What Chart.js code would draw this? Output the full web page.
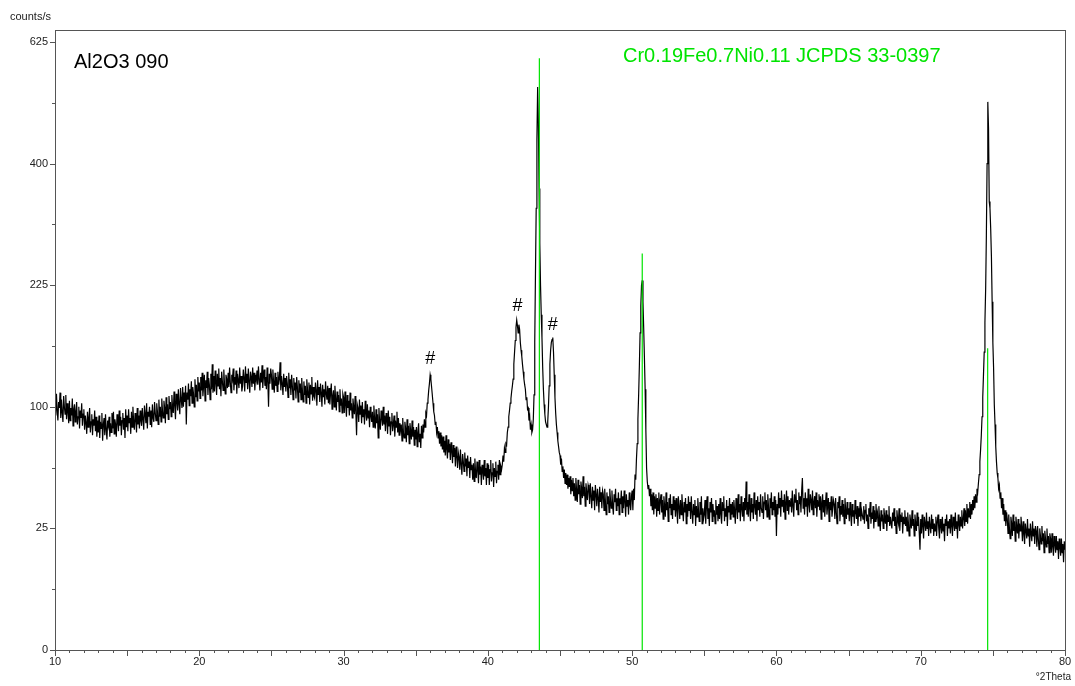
<!DOCTYPE html>
<html>
<head>
<meta charset="utf-8">
<script src="https://cdn.jsdelivr.net/npm/chart.js@4/dist/chart.umd.min.js"></script>
<style>
  html, body { margin: 0; padding: 0; background: #fff; }
  #wrap { width: 1075px; height: 686px; position: relative; }
</style>
</head>
<body>
<div id="wrap"><canvas id="xrd"></canvas></div>
<script>
// Scan: 10..80 deg 2Theta, one reading every 0.05 deg
const thetaStart = 10;
const thetaStep = 0.05;

// Intensity (counts/s), one row per degree (x.00 .. x.95)
const countRows = [
  [108, 93, 111, 97, 89, 104, 99, 112, 91, 106, 95, 88, 109, 100, 94, 110, 90, 103, 96, 87],        // 10
  [105, 89, 99, 93, 107, 85, 98, 102, 88, 96, 104, 86, 92, 100, 83, 97, 91, 103, 85, 94],           // 11
  [98, 82, 93, 87, 79, 96, 84, 91, 99, 80, 88, 94, 78, 90, 85, 97, 81, 92, 77, 89],                 // 12
  [80, 93, 76, 88, 83, 95, 74, 86, 91, 78, 94, 82, 75, 89, 85, 92, 77, 87, 80, 95],                 // 13
  [83, 96, 79, 90, 86, 77, 94, 88, 81, 97, 85, 92, 78, 89, 95, 82, 91, 76, 98, 84],                 // 14
  [93, 81, 98, 87, 91, 79, 96, 84, 100, 88, 82, 95, 90, 80, 99, 86, 93, 83, 97, 89],                // 15
  [85, 99, 90, 82, 101, 94, 87, 103, 83, 96, 92, 100, 86, 97, 84, 102, 91, 88, 104, 95],            // 16
  [89, 103, 96, 86, 106, 92, 100, 88, 107, 97, 91, 105, 99, 87, 108, 94, 102, 90, 109, 98],         // 17
  [104, 92, 110, 99, 95, 113, 101, 90, 111, 105, 97, 115, 102, 94, 116, 106, 99, 117, 100, 112],    // 18
  [104, 118, 86, 112, 106, 120, 101, 115, 109, 122, 103, 117, 111, 100, 124, 108, 119, 105, 126, 113], // 19
  [121, 107, 126, 114, 130, 109, 118, 128, 105, 123, 116, 131, 110, 125, 119, 106, 129, 115, 138, 112], // 20
  [127, 113, 132, 120, 110, 129, 118, 134, 115, 125, 109, 131, 122, 114, 133, 119, 111, 128, 124, 116], // 21
  [130, 117, 135, 121, 112, 128, 124, 134, 114, 126, 119, 132, 111, 129, 123, 116, 135, 120, 127, 113], // 22
  [118, 133, 125, 113, 136, 121, 129, 115, 134, 122, 112, 131, 126, 117, 135, 120, 130, 114, 128, 123], // 23
  [132, 119, 136, 124, 114, 130, 121, 137, 116, 127, 133, 118, 126, 115, 135, 122, 100, 129, 120, 134], // 24
  [128, 115, 133, 121, 112, 130, 118, 126, 113, 131, 119, 124, 140, 114, 127, 120, 110, 129, 117, 125], // 25
  [113, 127, 120, 108, 130, 116, 124, 110, 128, 118, 106, 125, 114, 121, 107, 126, 117, 104, 123, 112], // 26
  [120, 106, 125, 113, 104, 122, 110, 118, 103, 124, 115, 108, 121, 102, 119, 111, 126, 105, 117, 109], // 27
  [107, 121, 114, 101, 123, 110, 117, 104, 120, 112, 100, 119, 108, 115, 102, 122, 111, 106, 118, 103], // 28
  [116, 102, 112, 120, 98, 109, 114, 100, 118, 106, 97, 113, 104, 110, 96, 115, 101, 107, 95, 111],  // 29
  [108, 95, 113, 101, 92, 110, 99, 105, 93, 112, 97, 103, 91, 107, 100, 94, 109, 96, 78, 102],       // 30
  [99, 88, 106, 94, 101, 87, 104, 92, 98, 86, 105, 95, 89, 102, 91, 97, 84, 100, 93, 88],            // 31
  [96, 84, 101, 90, 83, 98, 87, 94, 76, 99, 88, 82, 97, 91, 85, 100, 86, 93, 81, 95],                // 32
  [90, 79, 97, 85, 92, 78, 88, 95, 81, 86, 93, 77, 89, 84, 96, 80, 91, 78, 87, 82],                  // 33
  [86, 74, 91, 80, 76, 88, 83, 73, 90, 78, 85, 72, 87, 81, 75, 89, 77, 84, 71, 82],                  // 34
  [75, 84, 70, 80, 87, 73, 79, 69, 85, 76, 86, 80, 90, 84, 95, 93, 103, 106, 114, 120],              // 35
  [128, 124, 117, 110, 103, 96, 93, 86, 88, 80, 84, 76, 81, 72, 80, 70, 78, 68, 77, 66],             // 36
  [74, 64, 78, 68, 62, 75, 66, 72, 61, 73, 67, 59, 71, 63, 69, 57, 70, 64, 56, 66],                  // 37
  [63, 55, 68, 58, 52, 65, 60, 54, 66, 57, 62, 51, 64, 56, 60, 50, 63, 55, 58, 49],                  // 38
  [59, 48, 62, 53, 50, 60, 55, 47, 61, 52, 57, 46, 58, 54, 49, 61, 51, 56, 46, 59],                  // 39
  [50, 58, 46, 55, 61, 48, 53, 59, 45, 56, 51, 60, 47, 54, 58, 49, 61, 52, 57, 55],                  // 40
  [58, 64, 60, 69, 66, 72, 71, 80, 84, 92, 97, 103, 107, 113, 118, 124, 138, 150, 162, 176],         // 41
  [184, 178, 170, 179, 174, 160, 152, 146, 138, 131, 124, 119, 115, 106, 108, 98, 99, 89, 92, 82],   // 42
  [86, 80, 82, 90, 110, 160, 240, 330, 440, 536, 470, 360, 280, 225, 190, 165, 135, 115, 102, 94],   // 43
  [88, 86, 84, 88, 100, 118, 138, 152, 160, 163, 165, 150, 128, 108, 95, 86, 80, 74, 70, 66],        // 44
  [64, 58, 62, 54, 57, 50, 55, 47, 53, 46, 52, 44, 50, 45, 51, 41, 49, 43, 50, 40],                  // 45
  [47, 38, 50, 43, 37, 49, 41, 46, 36, 48, 44, 39, 51, 40, 45, 35, 47, 42, 38, 46],                  // 46
  [44, 36, 47, 40, 34, 45, 38, 43, 33, 46, 41, 35, 44, 39, 32, 45, 37, 42, 34, 43],                  // 47
  [41, 33, 44, 37, 31, 42, 36, 40, 32, 44, 38, 34, 43, 35, 31, 41, 37, 44, 33, 39],                  // 48
  [35, 42, 31, 39, 36, 43, 32, 40, 34, 43, 37, 30, 41, 35, 38, 31, 42, 36, 33, 40],                  // 49
  [43, 33, 44, 38, 52, 49, 62, 72, 90, 110, 136, 170, 200, 225, 231, 205, 175, 145, 115, 82],        // 50
  [56, 48, 44, 46, 40, 44, 35, 41, 33, 42, 31, 40, 34, 41, 30, 39, 33, 42, 31, 38],                  // 51
  [41, 32, 38, 29, 40, 35, 30, 42, 33, 37, 28, 39, 34, 41, 31, 36, 29, 40, 33, 38],                  // 52
  [30, 39, 33, 27, 40, 35, 29, 38, 31, 41, 34, 28, 37, 32, 39, 27, 36, 30, 40, 33],                  // 53
  [37, 29, 40, 32, 27, 36, 31, 38, 26, 35, 30, 39, 33, 28, 37, 31, 40, 27, 34, 29],                  // 54
  [31, 38, 27, 35, 40, 29, 34, 26, 37, 32, 39, 28, 36, 30, 33, 27, 38, 31, 35, 28],                  // 55
  [36, 29, 39, 31, 27, 37, 33, 40, 28, 34, 30, 38, 26, 35, 32, 39, 29, 36, 31, 37],                  // 56
  [30, 38, 33, 27, 39, 35, 29, 41, 32, 36, 28, 40, 34, 30, 37, 28, 39, 33, 48, 31],                  // 57
  [37, 30, 41, 34, 28, 39, 32, 36, 29, 42, 35, 31, 38, 28, 40, 33, 37, 30, 41, 34],                  // 58
  [32, 40, 29, 37, 42, 33, 38, 30, 41, 35, 29, 39, 34, 42, 31, 37, 33, 40, 30, 38],                  // 59
  [22, 36, 31, 42, 34, 39, 30, 43, 35, 38, 32, 41, 29, 37, 43, 33, 40, 31, 38, 35],                  // 60
  [39, 32, 43, 35, 30, 41, 37, 44, 33, 38, 31, 42, 36, 40, 32, 43, 50, 34, 39, 31],                  // 61
  [42, 35, 39, 30, 44, 36, 32, 41, 38, 33, 43, 31, 37, 40, 34, 42, 30, 38, 35, 41],                  // 62
  [33, 40, 29, 37, 41, 32, 38, 30, 36, 42, 31, 35, 39, 28, 37, 33, 40, 30, 34, 38],                  // 63
  [36, 29, 39, 32, 27, 37, 34, 40, 28, 35, 31, 38, 30, 36, 27, 39, 33, 29, 37, 31],                  // 64
  [34, 28, 37, 31, 26, 36, 30, 33, 27, 38, 32, 29, 35, 26, 34, 30, 37, 28, 33, 31],                  // 65
  [29, 35, 27, 33, 36, 28, 31, 25, 34, 30, 37, 27, 32, 29, 35, 25, 33, 28, 36, 30],                  // 66
  [32, 26, 35, 29, 24, 33, 28, 31, 25, 34, 30, 27, 33, 24, 31, 28, 35, 26, 30, 27],                  // 67
  [25, 32, 28, 34, 26, 30, 23, 33, 29, 27, 34, 24, 31, 28, 32, 23, 30, 27, 33, 26],                  // 68
  [30, 24, 32, 27, 22, 31, 28, 25, 33, 26, 29, 22, 31, 27, 24, 32, 26, 30, 23, 17],                  // 69
  [29, 23, 31, 26, 21, 30, 27, 24, 32, 25, 28, 22, 30, 26, 23, 31, 25, 29, 22, 27],                  // 70
  [24, 30, 22, 28, 31, 25, 21, 29, 26, 23, 30, 24, 27, 20, 29, 26, 31, 22, 28, 25],                  // 71
  [29, 23, 31, 26, 22, 30, 27, 24, 32, 25, 28, 21, 31, 27, 24, 30, 26, 33, 25, 29],                  // 72
  [34, 26, 33, 28, 36, 27, 34, 30, 37, 29, 36, 31, 38, 33, 40, 34, 41, 37, 44, 42],                  // 73
  [47, 52, 60, 68, 78, 92, 108, 128, 150, 181, 220, 290, 400, 508, 460, 340, 330, 300, 262, 205],    // 74
  [160, 135, 102, 86, 70, 60, 53, 50, 44, 46, 39, 42, 34, 39, 31, 36, 28, 33, 26, 32],               // 75
  [29, 23, 31, 25, 21, 30, 27, 22, 31, 24, 28, 20, 30, 26, 23, 29, 21, 27, 24, 30],                  // 76
  [26, 20, 28, 23, 19, 27, 24, 21, 29, 22, 25, 18, 27, 23, 20, 28, 22, 25, 19, 26],                  // 77
  [24, 18, 26, 21, 17, 25, 22, 19, 26, 20, 23, 16, 24, 21, 18, 25, 19, 22, 16, 23],                  // 78
  [21, 16, 23, 18, 15, 22, 19, 16, 22, 17, 20, 14, 21, 18, 15, 21, 16, 19, 13, 20],                  // 79
  [17]                                                                                               // 80
];

// Reference pattern Cr0.19Fe0.7Ni0.11, JCPDS 33-0397
const refPos = [43.57, 50.70, 74.64];
const refCounts = [592, 266, 154];

// "#" markers above the unassigned peaks
const hashPos = [36.0, 42.05, 44.5];
const hashCounts = [143, 200, 179];

// Square-root intensity axis: labelled ticks and the axis top
const yTickLabels = [0, 25, 100, 225, 400, 625];
const yTop = 650;
const xTickLabels = [10, 20, 30, 40, 50, 60, 70, 80];

const scanPoints = [];
countRows.forEach((row, r) => {
    row.forEach((c, j) => {
        scanPoints.push({ x: thetaStart + r + j * thetaStep, y: Math.sqrt(c) });
    });
});

const refPoints = [];
refPos.forEach((p, i) => {
    refPoints.push({ x: p, y: 0 });
    refPoints.push({ x: p, y: Math.sqrt(refCounts[i]) });
    refPoints.push({ x: p, y: null });
});

const GREEN = 'rgb(0, 228, 0)';

// Frame, tick marks and text labels
const overlayPlugin = {
    id: 'xrdOverlay',
    afterDraw(chart) {
        const { ctx, chartArea: a, scales: { x, y } } = chart;
        ctx.save();

        ctx.strokeStyle = '#555';
        ctx.lineWidth = 1;
        ctx.strokeRect(a.left + 0.5, a.top + 0.5, a.right - a.left, a.bottom - a.top);

        // x ticks: every degree, longer every 5
        ctx.beginPath();
        x.ticks.forEach(t => {
            const px = Math.round(x.getPixelForValue(t.value)) + 0.5;
            const len = t.value % 5 === 0 ? 6 : 3;
            ctx.moveTo(px, a.bottom);
            ctx.lineTo(px, a.bottom + len);
        });
        // y ticks: labelled ones longer
        y.ticks.forEach(t => {
            const py = Math.round(y.getPixelForValue(t.value)) + 0.5;
            const len = t.value % 5 === 0 ? 5 : 3;
            ctx.moveTo(a.left, py);
            ctx.lineTo(a.left - len, py);
        });
        ctx.stroke();

        ctx.fillStyle = '#222';
        ctx.font = '11px "Liberation Sans", Arial, sans-serif';
        ctx.textAlign = 'left';
        ctx.textBaseline = 'middle';
        ctx.fillText('counts/s', 10, 17);

        ctx.font = '10px "Liberation Sans Narrow", "Liberation Sans", Arial, sans-serif';
        ctx.textAlign = 'right';
        ctx.fillText('°2Theta', 1071, 677);

        ctx.fillStyle = '#000';
        ctx.font = '20px "Liberation Sans", Arial, sans-serif';
        ctx.textAlign = 'left';
        ctx.textBaseline = 'alphabetic';
        ctx.fillText('Al2O3 090', 74, 68);

        ctx.fillStyle = GREEN;
        ctx.fillText('Cr0.19Fe0.7Ni0.11 JCPDS 33-0397', 623, 62);

        ctx.fillStyle = '#000';
        ctx.font = '18px "Liberation Sans", Arial, sans-serif';
        ctx.textAlign = 'center';
        ctx.textBaseline = 'middle';
        hashPos.forEach((p, i) => {
            ctx.fillText('#', x.getPixelForValue(p), y.getPixelForValue(Math.sqrt(hashCounts[i])));
        });

        ctx.restore();
    }
};

new Chart(document.getElementById('xrd'), {
    type: 'scatter',
    data: {
        datasets: [
            {
                label: 'JCPDS 33-0397',
                data: refPoints,
                showLine: true,
                spanGaps: false,
                borderColor: GREEN,
                borderWidth: 1.2,
                pointRadius: 0,
                order: 0
            },
            {
                label: 'Al2O3 090',
                data: scanPoints,
                showLine: true,
                borderColor: '#000',
                borderWidth: 1.2,
                pointRadius: 0,
                order: 1
            }
        ]
    },
    options: {
        responsive: true,
        maintainAspectRatio: false,
        animation: false,
        layout: { padding: { top: 30, right: 10, left: 0, bottom: 0 } },
        plugins: {
            legend: { display: false },
            tooltip: { enabled: false }
        },
        scales: {
            x: {
                type: 'linear',
                min: 10,
                max: 80,
                border: { display: false },
                grid: { display: false, drawTicks: true, tickLength: 4 },
                ticks: {
                    stepSize: 1,
                    autoSkip: false,
                    maxRotation: 0,
                    padding: 1,
                    color: '#222',
                    font: { family: '"Liberation Sans Narrow", "Liberation Sans", Arial, sans-serif', size: 11 },
                    callback: v => xTickLabels.includes(v) ? String(v) : ''
                },
                afterFit: s => { s.height = 36; }
            },
            y: {
                type: 'linear',
                min: 0,
                max: Math.sqrt(yTop),
                border: { display: false },
                grid: { display: false, drawTicks: true, tickLength: 5 },
                ticks: {
                    stepSize: 2.5,
                    includeBounds: false,
                    autoSkip: false,
                    padding: 2,
                    color: '#222',
                    font: { family: '"Liberation Sans", Arial, sans-serif', size: 11 },
                    callback: v => {
                        const c = Math.round(v * v);
                        return yTickLabels.includes(c) && v % 5 === 0 ? String(c) : '';
                    }
                },
                afterFit: s => { s.width = 55; }
            }
        }
    },
    plugins: [overlayPlugin]
});
</script>
</body>
</html>
